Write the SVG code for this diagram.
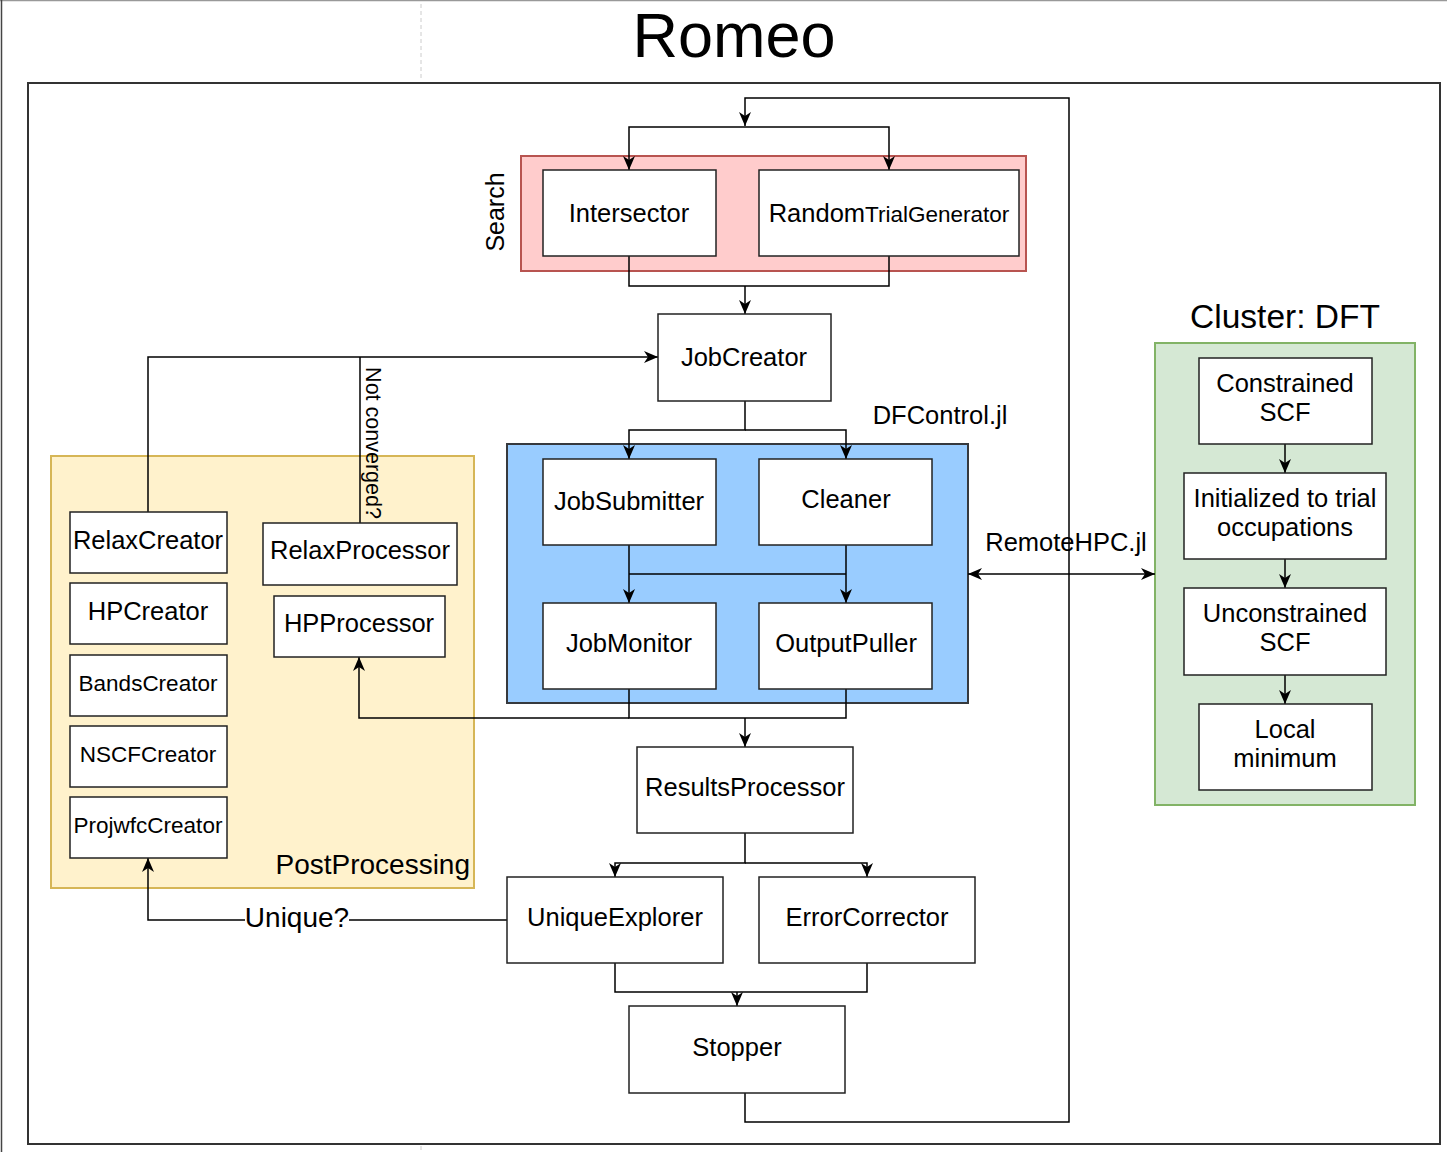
<svg xmlns="http://www.w3.org/2000/svg" width="1453" height="1152" viewBox="0 0 1453 1152">
<style>
text{font-family:"Liberation Sans",Arial,Helvetica,sans-serif;fill:#000;}
.t{font-size:25.5px;text-anchor:middle;}
.ts{font-size:22.5px;text-anchor:middle;}
.box{fill:#fff;stroke:#222;stroke-width:1.5;}
.c{fill:none;stroke:#000;stroke-width:1.5;}
.ca{fill:none;stroke:#000;stroke-width:1.5;marker-end:url(#arr);}
</style>
<defs>
<marker id="arr" markerUnits="userSpaceOnUse" markerWidth="16" markerHeight="16" viewBox="0 0 16 16" refX="14" refY="8" orient="auto-start-reverse">
<path d="M0,2 L14,8 L0,14 L4,8 Z" fill="#000"/>
</marker>
</defs>
<rect width="1453" height="1152" fill="#fff"/>
<g id="page">
<line x1="0" y1="0.5" x2="1447" y2="0.5" stroke="#999" stroke-width="1.5"/>
<line x1="1.5" y1="0" x2="1.5" y2="1152" stroke="#444" stroke-width="1.5"/>
<line x1="421" y1="4" x2="421" y2="80" stroke="#ccc" stroke-width="1" stroke-dasharray="4,3"/>
<line x1="421" y1="1146" x2="421" y2="1152" stroke="#ccc" stroke-width="1" stroke-dasharray="4,3"/>
<rect x="28" y="83" width="1412" height="1061" fill="none" stroke="#333" stroke-width="2"/>
<text x="734" y="57" style="font-size:63px;text-anchor:middle;">Romeo</text>
</g>
<g id="search">
<rect x="521" y="156" width="505" height="115" fill="#ffcccc" stroke="#b85450" stroke-width="2"/>
<text transform="translate(504,212) rotate(-90)" style="font-size:25px;text-anchor:middle;">Search</text>
</g>
<g id="dfcontrol">
<rect x="507" y="444" width="461" height="259" fill="#99ccff" stroke="#36393d" stroke-width="2"/>
<text x="940" y="424" class="t">DFControl.jl</text>
</g>
<g id="postprocessing">
<rect x="51" y="456" width="423" height="432" fill="#fff2cc" stroke="#d6b656" stroke-width="2"/>
<text x="470" y="874" style="font-size:28px;text-anchor:end;">PostProcessing</text>
</g>
<g id="cluster">
<rect x="1155" y="343" width="260" height="462" fill="#d5e8d4" stroke="#82b366" stroke-width="2"/>
<text x="1285" y="328" style="font-size:33.5px;text-anchor:middle;">Cluster: DFT</text>
</g>
<g id="connectors">
<path class="ca" d="M745,1093 V1122 H1069 V98 H745 V126"/>
<path class="ca" d="M745,127 H629 V170"/>
<path class="ca" d="M745,127 H889 V170"/>
<path class="c" d="M629,256 V286 H889 V256"/>
<path class="ca" d="M745,286 V314"/>
<path class="ca" d="M745,401 V430 H629 V459"/>
<path class="ca" d="M745,430 H846 V459"/>
<path class="ca" d="M629,545 V603"/>
<path class="ca" d="M846,545 V603"/>
<path class="c" d="M629,574 H846"/>
<path class="c" d="M629,689 V718 H846 V689"/>
<path class="ca" d="M745,718 V747"/>
<path class="ca" d="M629,718 H359 V657"/>
<path class="ca" d="M745,833 V863 H615 V877"/>
<path class="ca" d="M745,863 H867 V877"/>
<path class="c" d="M615,963 V992 H867 V963"/>
<path class="ca" d="M737,992 V1006"/>
<path class="ca" d="M507,920 H148 V858"/>
<rect x="245" y="903" width="104" height="32" fill="#fff"/>
<text x="297" y="927" style="font-size:28px;text-anchor:middle;">Unique?</text>
<path class="ca" d="M148,512 V357 H658"/>
<path class="c" d="M360,523 V357"/>
<text transform="translate(366,443) rotate(90)" style="font-size:21.5px;text-anchor:middle;">Not converged?</text>
<path class="ca" d="M968,574 H1155" style="marker-start:url(#arr);"/>
<text x="1066" y="551" class="t">RemoteHPC.jl</text>
<path class="ca" d="M1285,444 V473"/>
<path class="ca" d="M1285,559 V588"/>
<path class="ca" d="M1285,675 V704"/>
</g>
<g id="intersector"><rect class="box" x="543" y="170" width="173" height="86"/><text x="629" y="222" class="t">Intersector</text></g>
<g id="randomtrialgenerator"><rect class="box" x="759" y="170" width="260" height="86"/><text x="889" y="222" class="t">Random<tspan style="font-size:22.5px;">TrialGenerator</tspan></text></g>
<g id="jobcreator"><rect class="box" x="658" y="314" width="173" height="87"/><text x="744" y="366" class="t">JobCreator</text></g>
<g id="jobsubmitter"><rect class="box" x="543" y="459" width="173" height="86"/><text x="629" y="510" class="t">JobSubmitter</text></g>
<g id="cleaner"><rect class="box" x="759" y="459" width="173" height="86"/><text x="846" y="508" class="t">Cleaner</text></g>
<g id="jobmonitor"><rect class="box" x="543" y="603" width="173" height="86"/><text x="629" y="652" class="t">JobMonitor</text></g>
<g id="outputpuller"><rect class="box" x="759" y="603" width="173" height="86"/><text x="846" y="652" class="t">OutputPuller</text></g>
<g id="resultsprocessor"><rect class="box" x="637" y="747" width="216" height="86"/><text x="745" y="796" class="t">ResultsProcessor</text></g>
<g id="uniqueexplorer"><rect class="box" x="507" y="877" width="216" height="86"/><text x="615" y="926" class="t">UniqueExplorer</text></g>
<g id="errorcorrector"><rect class="box" x="759" y="877" width="216" height="86"/><text x="867" y="926" class="t">ErrorCorrector</text></g>
<g id="stopper"><rect class="box" x="629" y="1006" width="216" height="87"/><text x="737" y="1056" class="t">Stopper</text></g>
<g id="relaxcreator"><rect class="box" x="70" y="512" width="157" height="61"/><text x="148" y="549" class="t">RelaxCreator</text></g>
<g id="hpcreator"><rect class="box" x="70" y="583" width="157" height="61"/><text x="148" y="620" class="t">HPCreator</text></g>
<g id="bandscreator"><rect class="box" x="70" y="655" width="157" height="61"/><text x="148" y="691" class="ts">BandsCreator</text></g>
<g id="nscfcreator"><rect class="box" x="70" y="726" width="157" height="61"/><text x="148" y="762" class="ts">NSCFCreator</text></g>
<g id="projwfccreator"><rect class="box" x="70" y="797" width="157" height="61"/><text x="148" y="833" class="ts">ProjwfcCreator</text></g>
<g id="relaxprocessor"><rect class="box" x="263" y="523" width="194" height="62"/><text x="360" y="559" class="t">RelaxProcessor</text></g>
<g id="hpprocessor"><rect class="box" x="274" y="596" width="171" height="61"/><text x="359" y="632" class="t">HPProcessor</text></g>
<g id="constrainedscf"><rect class="box" x="1199" y="358" width="173" height="86"/><text x="1285" y="392" class="t">Constrained</text><text x="1285" y="421" class="t">SCF</text></g>
<g id="initialized"><rect class="box" x="1184" y="473" width="202" height="86"/><text x="1285" y="507" class="t">Initialized to trial</text><text x="1285" y="536" class="t">occupations</text></g>
<g id="unconstrainedscf"><rect class="box" x="1184" y="588" width="202" height="87"/><text x="1285" y="622" class="t">Unconstrained</text><text x="1285" y="651" class="t">SCF</text></g>
<g id="localminimum"><rect class="box" x="1199" y="704" width="173" height="86"/><text x="1285" y="738" class="t">Local</text><text x="1285" y="767" class="t">minimum</text></g>
</svg>
